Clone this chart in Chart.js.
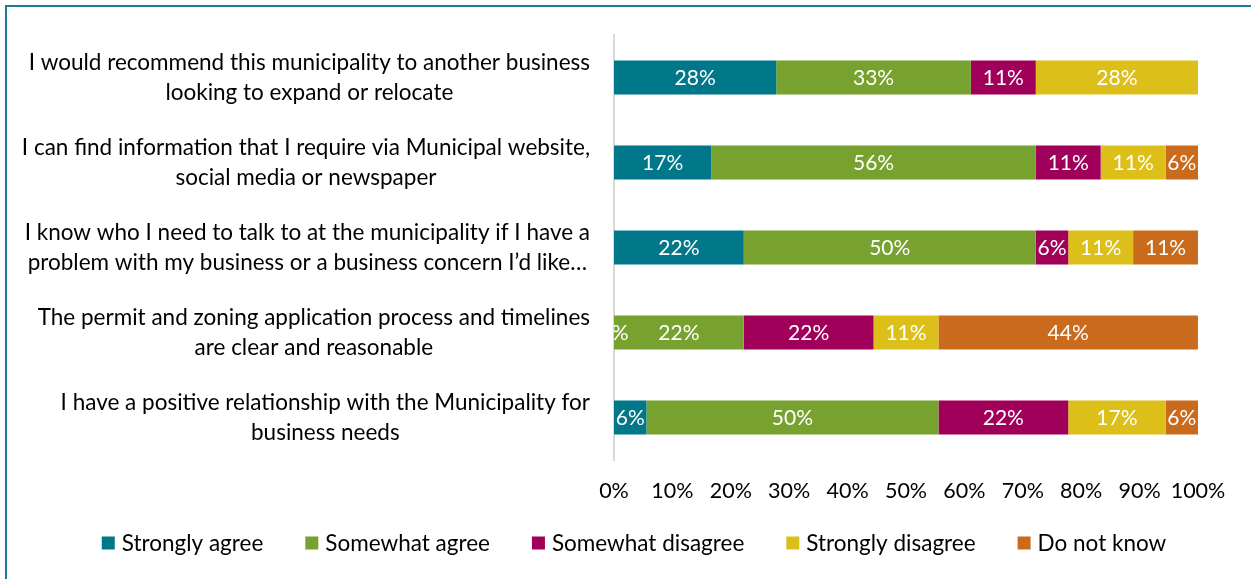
<!DOCTYPE html>
<html>
<head>
<meta charset="utf-8">
<title>Business perceptions of the municipality</title>
<script src="https://cdn.jsdelivr.net/npm/chart.js@4.4.1/dist/chart.umd.min.js"></script>
<style>
  html, body { margin: 0; padding: 0; background: #ffffff; overflow: hidden; }
  #wrap { position: relative; width: 1251px; height: 579px; }
  #chart { position: absolute; left: 0; top: 0; }
  #frame {
    position: absolute; left: 5px; top: 5px; width: 1300px; height: 700px;
    border-left: 2px solid #1A7F92; border-top: 2px solid #1A7F92;
    pointer-events: none;
  }
</style>
</head>
<body>
<div id="wrap">
  <canvas id="chart" width="1251" height="579"></canvas>
  <div id="frame"></div>
</div>
<script>
// Survey statements (each one wrapped onto two lines)
const statements = [
  ["I would recommend this municipality to another business", "looking to expand or relocate"],
  ["I can find information that I require via Municipal website,", "social media or newspaper"],
  ["I know who I need to talk to at the municipality if I have a", "problem with my business or a business concern I\u2019d like\u2026"],
  ["The permit and zoning application process and timelines", "are clear and reasonable"],
  ["I have a positive relationship with the Municipality for", "business needs"]
];

// Response shares, percent of respondents
const stronglyAgree     = [27.78, 16.67, 22.22, 0,     5.56];
const somewhatAgree     = [33.33, 55.56, 50.00, 22.22, 50.00];
const somewhatDisagree  = [11.11, 11.11, 5.56,  22.22, 22.22];
const stronglyDisagree  = [27.78, 11.11, 11.11, 11.11, 16.67];
const doNotKnow         = [null,  5.56,  11.11, 44.44, 5.56];

const seriesNames = ["Strongly agree", "Somewhat agree", "Somewhat disagree", "Strongly disagree", "Do not know"];
const seriesColors = ["#00788A", "#78A22F", "#A1005A", "#DDBF1A", "#C96A1C"];

// Horizontal axis ticks
const axisMin = 0;
const axisMax = 100;
const axisStep = 10;

const FONT = "Lato, 'Open Sans', sans-serif";

// White percentage labels centred in each bar segment, clipped to the plot area
const segmentLabels = {
  id: "segmentLabels",
  afterDatasetsDraw(chart) {
    const { ctx, chartArea } = chart;
    ctx.save();
    ctx.beginPath();
    ctx.rect(chartArea.left, chartArea.top, chartArea.right - chartArea.left, chartArea.bottom - chartArea.top);
    ctx.clip();
    ctx.fillStyle = "#ffffff";
    ctx.font = "21px " + FONT;
    ctx.textAlign = "center";
    ctx.textBaseline = "middle";
    chart.data.datasets.forEach((ds, di) => {
      const meta = chart.getDatasetMeta(di);
      meta.data.forEach((bar, i) => {
        const v = ds.data[i];
        if (v === null || v === undefined) return;
        const c = bar.getCenterPoint();
        ctx.fillText(Math.round(v) + "%", c.x, c.y + 1);
      });
    });
    ctx.restore();
  }
};

// Category labels: each block right-aligned to the axis, its lines centred within the block
const categoryLabels = {
  id: "categoryLabels",
  afterDraw(chart) {
    const { ctx, chartArea } = chart;
    const yScale = chart.scales.y;
    const right = chartArea.left - 24;
    const lineH = 30;
    ctx.save();
    ctx.font = "22.5px " + FONT;
    ctx.fillStyle = "#000000";
    ctx.textAlign = "center";
    ctx.textBaseline = "middle";
    chart.data.labels.forEach((lines, i) => {
      const y = yScale.getPixelForTick(i);
      const blockW = Math.max(...lines.map(l => ctx.measureText(l).width));
      const cx = right - blockW / 2;
      const y0 = y - (lines.length - 1) * lineH / 2;
      lines.forEach((l, k) => ctx.fillText(l, cx, y0 + k * lineH));
    });
    ctx.restore();
  }
};

// Legend row under the axis
const legendRow = {
  id: "legendRow",
  afterDraw(chart) {
    const { ctx } = chart;
    const box = 13, textGap = 7, itemGap = 42, cy = 543, centreX = 634;
    ctx.save();
    ctx.font = "22.5px " + FONT;
    ctx.textBaseline = "middle";
    ctx.textAlign = "left";
    const items = chart.data.datasets.map(ds => ({ text: ds.label, color: ds.backgroundColor, w: ctx.measureText(ds.label).width }));
    const total = items.reduce((s, it) => s + box + textGap + it.w, 0) + itemGap * (items.length - 1);
    let x = centreX - total / 2;
    items.forEach(it => {
      ctx.fillStyle = it.color;
      ctx.fillRect(x, cy - box / 2, box, box);
      ctx.fillStyle = "#000000";
      ctx.fillText(it.text, x + box + textGap, cy + 1);
      x += box + textGap + it.w + itemGap;
    });
    ctx.restore();
  }
};

const seriesData = [stronglyAgree, somewhatAgree, somewhatDisagree, stronglyDisagree, doNotKnow];

new Chart(document.getElementById("chart"), {
  type: "bar",
  data: {
    labels: statements,
    datasets: seriesNames.map((name, i) => ({
      label: name,
      data: seriesData[i],
      backgroundColor: seriesColors[i],
      borderWidth: 0,
      barPercentage: 1,
      categoryPercentage: 0.4
    }))
  },
  options: {
    indexAxis: "y",
    responsive: false,
    animation: false,
    devicePixelRatio: 1,
    layout: { padding: { left: 0, right: 53, top: 35, bottom: 0 } },
    plugins: {
      legend: { display: false },
      tooltip: { enabled: false }
    },
    scales: {
      x: {
        stacked: true,
        min: axisMin,
        max: axisMax,
        grid: { display: false, drawTicks: false },
        border: { display: false },
        ticks: {
          stepSize: axisStep,
          padding: 18,
          maxRotation: 0,
          minRotation: 0,
          autoSkip: false,
          color: "#000000",
          font: { family: FONT, size: 21.5 },
          callback: v => v + "%"
        },
        afterFit: s => { s.height = 119; }
      },
      y: {
        stacked: true,
        grid: { display: false, drawTicks: false },
        border: { display: true, color: "#D9D9D9", width: 2 },
        ticks: { display: false },
        afterFit: s => { s.width = 614; }
      }
    }
  },
  plugins: [segmentLabels, categoryLabels, legendRow]
});
</script>
</body>
</html>
